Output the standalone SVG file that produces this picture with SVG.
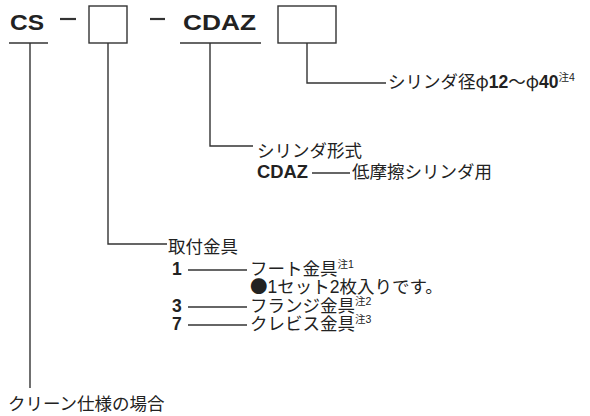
<svg xmlns="http://www.w3.org/2000/svg" width="590" height="416" viewBox="0 0 590 416">
<style>
.ln{stroke:#333;stroke-width:1.4;fill:none}
.dash{stroke:#333;stroke-width:2.2}
.bx{stroke:#333;stroke-width:1.4;fill:#fff}
.big{font-family:"Liberation Sans",Arial,sans-serif;font-weight:bold;font-size:22px;fill:#222}
.jp{font-family:"Liberation Sans","Noto Sans CJK JP",sans-serif;font-size:17.5px;fill:#222}
.cjk{font-family:"Noto Sans CJK JP",sans-serif}
.b{font-weight:bold}
.sup{font-size:10.5px}
</style>
<rect width="590" height="416" fill="#fff"/>
<g id="header">
<text class="big" x="10" y="30" textLength="34" lengthAdjust="spacingAndGlyphs">CS</text>
<line class="dash" x1="60" y1="19" x2="76" y2="19"/>
<rect class="bx" x="89" y="6" width="38" height="37"/>
<line class="dash" x1="150" y1="19" x2="165" y2="19"/>
<text class="big" x="183" y="30" textLength="73" lengthAdjust="spacingAndGlyphs">CDAZ</text>
<rect class="bx" x="278" y="6" width="58" height="37"/>
</g>
<g id="connectors">
<polyline class="ln" points="9,43 48,43"/>
<polyline class="ln" points="30,43 30,388"/>
<polyline class="ln" points="108,43 108,244 167,244"/>
<polyline class="ln" points="180,43 261,43"/>
<polyline class="ln" points="210,43 210,146 253,146"/>
<polyline class="ln" points="307,43 307,83 386,83"/>
</g>
<g id="bore">
<text class="jp" x="388" y="88">シリンダ径<tspan class="cjk">φ</tspan><tspan class="b">12</tspan>～<tspan class="cjk">φ</tspan><tspan class="b">40</tspan><tspan class="sup" dy="-7">注4</tspan></text>
</g>
<g id="type">
<text class="jp" x="257" y="157">シリンダ形式</text>
<text class="jp b" x="257" y="178" textLength="51" lengthAdjust="spacingAndGlyphs">CDAZ</text>
<line class="ln" x1="312" y1="173" x2="350" y2="173"/>
<text class="jp" x="352" y="178">低摩擦シリンダ用</text>
</g>
<g id="mount">
<text class="jp" x="168" y="253">取付金具</text>
<text class="jp b" x="172" y="275">1</text>
<line class="ln" x1="188" y1="270" x2="247" y2="270"/>
<text class="jp" x="250" y="275">フート金具<tspan class="sup" dy="-7">注1</tspan></text>
<text class="jp" x="250" y="293"><tspan class="cjk">●</tspan>1セット2枚入りです。</text>
<text class="jp b" x="172" y="312">3</text>
<line class="ln" x1="188" y1="307" x2="247" y2="307"/>
<text class="jp" x="250" y="312">フランジ金具<tspan class="sup" dy="-7">注2</tspan></text>
<text class="jp b" x="172" y="330">7</text>
<line class="ln" x1="188" y1="325" x2="247" y2="325"/>
<text class="jp" x="250" y="330">クレビス金具<tspan class="sup" dy="-7">注3</tspan></text>
</g>
<g id="clean">
<text class="jp" x="8" y="410">クリーン仕様の場合</text>
</g>
</svg>
